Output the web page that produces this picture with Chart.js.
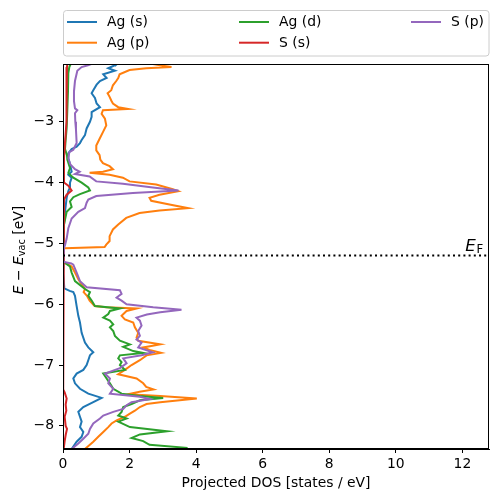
<!DOCTYPE html>
<html>
<head>
<meta charset="utf-8">
<script src="https://cdn.jsdelivr.net/npm/chart.js@4.4.0/dist/chart.umd.min.js"></script>
<style>
  html, body { margin: 0; padding: 0; background: #fff; }
</style>
</head>
<body>
<canvas id="pdos" width="498" height="502"></canvas>
<script>
// energies [eV] and projected DOS [states / eV]
const energyAgS = [-2.05, -2.06, -2.12, -2.16, -2.22, -2.28, -2.33, -2.39, -2.48, -2.53, -2.61, -2.70, -2.76, -2.84, -2.92, -3.00, -3.11, -3.22, -3.30, -3.35, -3.41, -3.45, -3.52, -3.60, -3.70, -3.82, -3.87, -3.92, -4.00, -4.08, -4.14, -4.25, -4.48, -4.69, -5.03, -5.10, -5.33, -5.50, -5.74, -5.78, -5.80, -5.86, -6.03, -6.19, -6.30, -6.47, -6.63, -6.71, -6.79, -6.84, -6.92, -7.00, -7.08, -7.14, -7.22, -7.30, -7.39, -7.47, -7.54, -7.61, -7.69, -7.77, -7.85, -7.93, -8.02, -8.10, -8.18, -8.26, -8.38];
const dosAgS    = [1.62, 1.60, 1.36, 1.56, 1.21, 1.31, 1.11, 1.01, 0.91, 0.86, 0.96, 1.01, 1.11, 0.86, 0.86, 0.81, 0.71, 0.66, 0.56, 0.51, 0.41, 0.26, 0.16, 0.16, 0.21, 0.26, 0.16, 0.26, 0.21, 0.21, 0.16, 0.11, 0.06, 0.03, 0.01, 0.00, 0.00, 0.02, 0.04, 0.20, 0.31, 0.36, 0.41, 0.46, 0.51, 0.56, 0.66, 0.76, 0.91, 0.81, 0.76, 0.71, 0.61, 0.41, 0.31, 0.36, 0.51, 0.76, 1.16, 0.91, 0.61, 0.46, 0.51, 0.56, 0.51, 0.61, 0.56, 0.41, 0.26];

const energyAgP = [-2.05, -2.08, -2.10, -2.12, -2.15, -2.22, -2.28, -2.33, -2.40, -2.48, -2.53, -2.59, -2.65, -2.70, -2.76, -2.79, -2.81, -2.87, -2.95, -3.06, -3.17, -3.28, -3.39, -3.47, -3.55, -3.62, -3.68, -3.73, -3.78, -3.82, -3.84, -3.87, -3.92, -3.98, -4.03, -4.11, -4.14, -4.20, -4.25, -4.30, -4.36, -4.42, -4.46, -4.50, -4.58, -4.69, -4.77, -4.88, -4.96, -5.02, -5.06, -5.08, -5.10, -5.30, -5.38, -5.48, -5.59, -5.67, -5.75, -5.80, -5.86, -5.94, -6.03, -6.05, -6.07, -6.11, -6.19, -6.25, -6.30, -6.38, -6.47, -6.55, -6.60, -6.66, -6.71, -6.75, -6.80, -6.84, -6.92, -7.00, -7.08, -7.15, -7.22, -7.30, -7.36, -7.40, -7.44, -7.48, -7.51, -7.55, -7.61, -7.64, -7.69, -7.75, -7.80, -7.85, -7.91, -7.96, -8.02, -8.10, -8.18, -8.26, -8.38];
const dosAgP    = [2.70, 3.00, 3.26, 2.50, 2.00, 1.70, 1.66, 1.60, 1.50, 1.45, 1.34, 1.40, 1.45, 1.50, 1.66, 1.96, 1.20, 1.16, 1.26, 1.30, 1.20, 1.10, 1.00, 1.00, 1.10, 1.12, 1.20, 1.40, 1.50, 1.20, 0.80, 1.40, 1.80, 2.00, 2.80, 3.30, 3.46, 2.90, 2.60, 2.65, 3.20, 3.76, 2.90, 2.30, 1.90, 1.66, 1.50, 1.40, 1.40, 1.30, 1.25, 0.05, 0.00, 0.00, 0.26, 0.36, 0.46, 0.56, 0.66, 0.62, 0.72, 0.80, 0.95, 1.30, 2.21, 1.91, 1.76, 1.86, 2.11, 2.16, 2.26, 2.21, 2.26, 2.92, 2.41, 2.60, 2.95, 2.51, 2.31, 2.06, 1.86, 1.66, 2.21, 2.41, 2.50, 2.72, 2.30, 1.96, 2.92, 4.02, 2.92, 2.51, 2.31, 2.16, 2.01, 1.86, 1.61, 1.46, 1.36, 1.21, 1.06, 0.91, 0.66];

const energyAgD = [-2.05, -2.10, -2.20, -2.50, -2.80, -3.10, -3.30, -3.45, -3.55, -3.62, -3.76, -3.84, -3.92, -4.00, -4.08, -4.13, -4.19, -4.24, -4.31, -4.40, -4.48, -4.69, -5.03, -5.10, -5.30, -5.38, -5.48, -5.62, -5.75, -5.80, -5.86, -5.94, -6.03, -6.07, -6.11, -6.16, -6.22, -6.27, -6.33, -6.38, -6.44, -6.52, -6.60, -6.66, -6.70, -6.77, -6.80, -6.84, -6.89, -6.95, -7.00, -7.08, -7.14, -7.22, -7.30, -7.39, -7.47, -7.51, -7.54, -7.58, -7.64, -7.69, -7.77, -7.83, -7.88, -7.93, -8.02, -8.09, -8.14, -8.20, -8.25, -8.31, -8.36, -8.38];
const dosAgD    = [0.23, 0.19, 0.16, 0.15, 0.13, 0.11, 0.08, 0.06, 0.12, 0.13, 0.21, 0.16, 0.31, 0.56, 0.76, 0.81, 0.51, 0.31, 0.21, 0.26, 0.11, 0.03, 0.01, 0.00, 0.00, 0.21, 0.26, 0.36, 0.66, 0.81, 0.76, 0.86, 0.96, 1.71, 1.41, 1.36, 1.21, 1.41, 1.51, 1.41, 1.51, 1.56, 1.71, 2.01, 1.81, 2.11, 2.41, 1.71, 1.66, 1.76, 1.71, 1.86, 1.21, 1.31, 1.41, 1.51, 1.76, 2.31, 3.01, 2.31, 2.06, 1.81, 1.76, 1.66, 1.91, 1.66, 2.01, 3.12, 2.31, 2.06, 2.41, 2.60, 3.71, 3.70];

const energySS = [-2.05, -2.10, -2.50, -3.00, -3.35, -3.60, -4.00, -4.05, -4.13, -4.20, -4.28, -4.50, -5.10, -5.30, -6.00, -7.40, -7.45, -7.55, -7.65, -7.75, -7.85, -8.00, -8.05, -8.15, -8.25, -8.38];
const dosSS    = [0.13, 0.12, 0.11, 0.10, 0.06, 0.03, 0.03, 0.16, 0.26, 0.11, 0.03, 0.01, 0.00, 0.00, 0.01, 0.01, 0.05, 0.11, 0.08, 0.10, 0.05, 0.08, 0.12, 0.08, 0.05, 0.02];

const energySP = [-2.05, -2.07, -2.10, -2.16, -2.33, -2.50, -2.66, -2.78, -2.81, -2.86, -3.00, -3.13, -3.35, -3.46, -3.50, -3.60, -3.70, -3.78, -3.82, -3.86, -3.90, -3.98, -4.02, -4.08, -4.13, -4.17, -4.22, -4.28, -4.33, -4.42, -4.48, -4.59, -4.75, -4.92, -5.03, -5.07, -5.10, -5.30, -5.33, -5.35, -5.48, -5.62, -5.72, -5.77, -5.83, -5.89, -5.94, -6.00, -6.05, -6.09, -6.13, -6.17, -6.22, -6.27, -6.35, -6.44, -6.52, -6.58, -6.63, -6.71, -6.79, -6.84, -6.89, -6.97, -7.05, -7.14, -7.22, -7.30, -7.39, -7.47, -7.52, -7.56, -7.61, -7.66, -7.72, -7.77, -7.83, -7.88, -7.96, -8.05, -8.13, -8.21, -8.29, -8.38];
const dosSP    = [0.85, 0.75, 0.56, 0.43, 0.36, 0.33, 0.33, 0.36, 0.43, 0.36, 0.37, 0.39, 0.41, 0.31, 0.19, 0.16, 0.22, 0.36, 0.50, 0.36, 0.80, 1.00, 1.80, 2.70, 3.47, 2.10, 1.00, 0.76, 0.71, 0.66, 0.46, 0.26, 0.16, 0.11, 0.06, 0.03, 0.00, 0.00, 0.25, 0.31, 0.41, 0.51, 0.71, 1.71, 1.76, 1.61, 1.76, 1.91, 2.71, 3.56, 2.92, 2.52, 2.21, 2.31, 2.36, 2.26, 2.31, 2.21, 2.36, 2.26, 2.70, 2.36, 1.81, 1.91, 1.71, 1.26, 1.41, 1.36, 1.51, 1.41, 2.31, 2.61, 2.06, 1.91, 1.81, 1.51, 1.21, 1.11, 0.91, 0.81, 0.76, 0.61, 0.46, 0.26];

const fermiEnergy = -5.2;
const xTicks = [0, 2, 4, 6, 8, 10, 12];
const yTicks = [-8, -7, -6, -5, -4, -3];

const series = [
  { label: 'Ag (s)', color: '#1f77b4', e: energyAgS, d: dosAgS },
  { label: 'Ag (p)', color: '#ff7f0e', e: energyAgP, d: dosAgP },
  { label: 'Ag (d)', color: '#2ca02c', e: energyAgD, d: dosAgD },
  { label: 'S (s)',  color: '#d62728', e: energySS,  d: dosSS },
  { label: 'S (p)',  color: '#9467bd', e: energySP,  d: dosSP }
];

const FONT = "'DejaVu Sans'";
const FS = 13.9;
Chart.defaults.font.family = FONT;
Chart.defaults.font.size = FS;
Chart.defaults.color = '#000';

const minus = v => String(v).replace('-', '\u2212');

const datasets = series.map((s, i) => ({
  label: s.label,
  data: s.e.map((e, k) => ({ x: s.d[k], y: e })),
  borderColor: s.color,
  backgroundColor: s.color,
  borderWidth: 2,
  showLine: true,
  pointRadius: 0,
  tension: 0,
  clip: 0,
  order: series.length - i
}));
datasets.push({
  label: 'EF',
  data: [{ x: 0, y: fermiEnergy }, { x: 12.8, y: fermiEnergy }],
  borderColor: '#000',
  borderWidth: 2,
  borderDash: [2, 3.2],
  showLine: true,
  pointRadius: 0,
  clip: 0,
  order: -1
});

const extras = {
  id: 'extras',
  afterDatasetsDraw(chart) {
    const { ctx, chartArea: a, scales } = chart;
    ctx.save();
    // frame
    ctx.strokeStyle = '#000';
    ctx.lineWidth = 1;
    ctx.strokeRect(Math.round(a.left) + 0.5, Math.round(a.top) + 0.5,
                   Math.round(a.right - a.left) - 1, Math.round(a.bottom - a.top) - 1);

    // E_F label
    const ex = scales.x.getPixelForValue(12.09);
    const ey = scales.y.getPixelForValue(fermiEnergy);
    ctx.fillStyle = '#000';
    ctx.textBaseline = 'alphabetic';
    ctx.textAlign = 'left';
    ctx.font = `italic 16.7px ${FONT}`;
    ctx.fillText('E', ex, ey - 4.3);
    const w = ctx.measureText('E').width;
    ctx.font = `11.7px ${FONT}`;
    ctx.fillText('F', ex + w + 0.5, ey - 2.8);

    // y axis title: E - E_vac [eV]
    ctx.save();
    ctx.translate(22.5, 250);
    ctx.rotate(-Math.PI / 2);
    const parts = [
      { t: 'E', f: `italic ${FS}px ${FONT}`, dy: 0 },
      { t: ' \u2212 ', f: `${FS}px ${FONT}`, dy: 0 },
      { t: 'E', f: `italic ${FS}px ${FONT}`, dy: 0 },
      { t: 'vac', f: `${(FS * 0.7).toFixed(1)}px ${FONT}`, dy: 2.8 },
      { t: ' [eV]', f: `${FS}px ${FONT}`, dy: 0 }
    ];
    let total = 0;
    parts.forEach(p => { ctx.font = p.f; p.w = ctx.measureText(p.t).width; total += p.w; });
    let px = -total / 2;
    parts.forEach(p => { ctx.font = p.f; ctx.fillText(p.t, px, p.dy); px += p.w; });
    ctx.restore();

    // legend (three columns, filled column by column)
    const lx = 63.5, ly = 10.5, lw = 425.5, lh = 45.5, r = 3;
    ctx.beginPath();
    ctx.moveTo(lx + r, ly);
    ctx.arcTo(lx + lw, ly, lx + lw, ly + lh, r);
    ctx.arcTo(lx + lw, ly + lh, lx, ly + lh, r);
    ctx.arcTo(lx, ly + lh, lx, ly, r);
    ctx.arcTo(lx, ly, lx + lw, ly, r);
    ctx.closePath();
    ctx.fillStyle = 'rgba(255,255,255,0.8)';
    ctx.fill();
    ctx.strokeStyle = '#cccccc';
    ctx.stroke();
    const colX = [67, 239, 411];
    const rowY = [22, 42.7];
    ctx.font = `${FS}px ${FONT}`;
    ctx.textBaseline = 'middle';
    series.forEach((s, i) => {
      const cx = colX[Math.floor(i / 2)];
      const cy = rowY[i % 2];
      ctx.strokeStyle = s.color;
      ctx.lineWidth = 2;
      ctx.beginPath();
      ctx.moveTo(cx, cy);
      ctx.lineTo(cx + 30, cy);
      ctx.stroke();
      ctx.fillStyle = '#000';
      ctx.fillText(s.label, cx + 40, cy + 0.5);
    });
    ctx.restore();
  }
};

new Chart(document.getElementById('pdos'), {
  type: 'scatter',
  data: { datasets },
  options: {
    responsive: false,
    animation: false,
    devicePixelRatio: 1,
    layout: { padding: { top: 64, right: 9, left: 0, bottom: 0 } },
    plugins: { legend: { display: false }, tooltip: { enabled: false } },
    scales: {
      x: {
        type: 'linear',
        min: 0,
        max: 12.8,
        afterBuildTicks: s => { s.ticks = xTicks.map(v => ({ value: v })); },
        afterFit: s => { s.height = 53; },
        grid: { drawOnChartArea: false, drawTicks: true, tickLength: 4, color: '#000', lineWidth: 1 },
        border: { display: true, color: '#000', width: 1 },
        ticks: { padding: 3, color: '#000', maxRotation: 0, callback: v => minus(v) },
        title: { display: true, text: 'Projected DOS [states / eV]', color: '#000', padding: { top: 0, bottom: 10 } }
      },
      y: {
        type: 'linear',
        min: -8.38,
        max: -2.05,
        afterBuildTicks: s => { s.ticks = yTicks.map(v => ({ value: v })); },
        afterFit: s => { s.width = 63; },
        grid: { drawOnChartArea: false, drawTicks: true, tickLength: 4, color: '#000', lineWidth: 1 },
        border: { display: true, color: '#000', width: 1 },
        ticks: { padding: 5, color: '#000', callback: v => minus(v) }
      }
    }
  },
  plugins: [extras]
});
</script>
</body>
</html>
